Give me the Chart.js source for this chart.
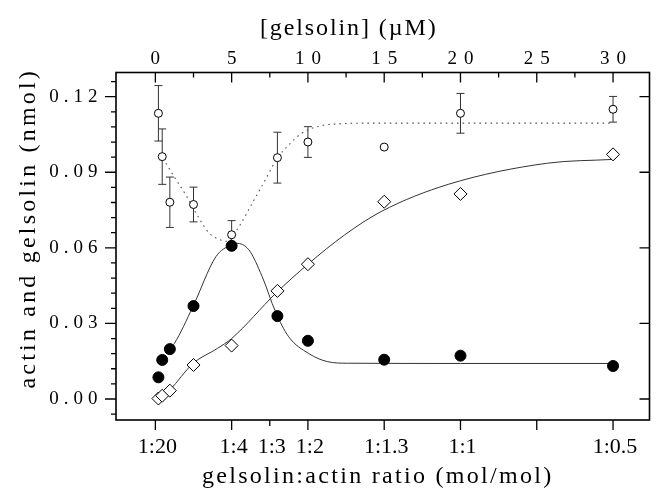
<!DOCTYPE html>
<html><head><meta charset="utf-8">
<script src="https://cdn.jsdelivr.net/npm/chart.js@4.4.0/dist/chart.umd.min.js"></script>
<style>html,body{margin:0;padding:0;background:#fff}#wrap{width:657px;height:494px}</style>
</head><body><div id="wrap"><canvas id="c" width="657" height="494"></canvas></div>
<script>
// ---- data ----
const gelsolinUM    = [0.2, 0.45, 0.95, 2.5, 5, 8, 10, 15, 20, 30];
const openCircles   = [0.1134, 0.0962, 0.0781, 0.0772, 0.0652, 0.0958, 0.1020, 0.1000, 0.1134, 0.1150];
const openErr       = [0.0110, 0.0110, 0.0100, 0.0069, 0.0056, 0.0101, 0.0061, 0, 0.0079, 0.0051];
const filledCircles = [0.0086, 0.0155, 0.0198, 0.0369, 0.0608, 0.0329, 0.0231, 0.0156, 0.0172, 0.0131];
const diamonds      = [0.0002, 0.0013, 0.0033, 0.0135, 0.0212, 0.0429, 0.0535, 0.0783, 0.0814, 0.0971];

// fitted curves
const fitOpenX   = [0.5, 0.8, 1.37, 2.0, 2.67, 3.53, 4.29, 4.7, 5.48, 6.35, 7.2, 7.98, 8.74, 9.6, 10.8, 12, 14, 20, 30];
const fitOpenY   = [0.0955, 0.0925, 0.0869, 0.0810, 0.0737, 0.0658, 0.0631, 0.0626, 0.0684, 0.0777, 0.0869, 0.0955, 0.1008, 0.1055, 0.1084, 0.1092, 0.1095, 0.1095, 0.1095];
const fitFilledX = [0.95, 1.25, 2.45, 3.97, 4.93, 5.3, 6.13, 7.0, 7.87, 8.74, 10.04, 11.3, 12.6, 20, 30];
const fitFilledY = [0.0200, 0.0221, 0.0365, 0.0565, 0.0611, 0.0618, 0.0592, 0.0486, 0.0347, 0.0247, 0.0181, 0.0148, 0.0142, 0.0141, 0.0141];
const fitDiamX   = [0.15, 0.5, 0.95, 2.45, 4.07, 5, 7.9, 10, 12.4, 14.8, 19.2, 25.7, 30];
const fitDiamY   = [-0.0005, 0.0013, 0.0036, 0.0140, 0.0201, 0.0240, 0.0420, 0.0535, 0.0651, 0.0744, 0.0852, 0.0936, 0.0951];

// axes / ticks
const topTickValues     = [0, 5, 10, 15, 20, 25, 30];
const topTickLabels     = ['0', '5', '10', '15', '20', '25', '30'];
const topMinorStep      = 2.5;
const bottomTickValues  = [0, 5, 7.5, 10, 15, 20, 25, 30];
const bottomTickLabels  = ['1:20', '1:4', '1:3', '1:2', '1:1.3', '1:1', '', '1:0.5'];
const yTickValues       = [0, 0.03, 0.06, 0.09, 0.12];
const yTickLabels       = ['0.00', '0.03', '0.06', '0.09', '0.12'];
const yMinorStep        = 0.006;
const X_MIN = -2.58, X_MAX = 32.39, Y_MIN = -0.00834, Y_MAX = 0.1296;

const titleTop    = '[gelsolin] (µM)';
const titleBottom = 'gelsolin:actin ratio (mol/mol)';
const titleLeft   = 'actin and gelsolin (nmol)';

const FONT = "'Liberation Serif', 'Times New Roman', serif";

const textStyle = {
  x:  {labelSpacing: '0px', labelDx: 2, labelDy: 0, titleSpacing: '2.3px', titleDx: -5, titleDy: 0},
  x2: {labelSpacing: '7px', labelDx: 3.5, labelDy: 0, titleSpacing: '1.9px', titleDx: -34, titleDy: 0},
  y:  {labelSpacing: '5px', labelDx: 0, labelDy: 0, titleSpacing: '3.2px', titleDx: 0, titleDy: -18}
};

const spacingPlugin = {
  id: 'spacing',
  afterLayout(chart) {
    for (const id of Object.keys(chart.scales)) {
      const s = chart.scales[id];
      const st = textStyle[id];
      if (!st || s.__wrapped) continue;
      s.__wrapped = true;
      const dl = s.drawLabels, dt = s.drawTitle;
      s.drawLabels = function (area) {
        const c = this.ctx; c.save(); c.letterSpacing = st.labelSpacing;
        c.translate(st.labelDx, st.labelDy); dl.call(this, area); c.restore();
      };
      s.drawTitle = function () {
        const c = this.ctx; c.save(); c.letterSpacing = st.titleSpacing;
        c.translate(st.titleDx, st.titleDy); dt.call(this); c.restore();
      };
    }
  }
};

const errorBars = {
  id: 'errorBars',
  beforeDatasetsDraw(chart) {
    const {ctx, scales: {x, y}} = chart;
    ctx.save();
    ctx.strokeStyle = '#333'; ctx.lineWidth = 1;
    ctx.beginPath();
    gelsolinUM.forEach((g, i) => {
      if (!openErr[i]) return;
      const px = x.getPixelForValue(g);
      const t = y.getPixelForValue(openCircles[i] + openErr[i]);
      const b = y.getPixelForValue(openCircles[i] - openErr[i]);
      ctx.moveTo(px, t); ctx.lineTo(px, b);
      ctx.moveTo(px - 4, t); ctx.lineTo(px + 4, t);
      ctx.moveTo(px - 4, b); ctx.lineTo(px + 4, b);
    });
    ctx.stroke();
    ctx.restore();
  }
};

const framePlugin = {
  id: 'frame',
  afterDraw(chart) {
    const {ctx, chartArea: a, scales} = chart;
    ctx.save();
    ctx.strokeStyle = '#000';
    ctx.lineWidth = 1.6;
    ctx.strokeRect(a.left, a.top, a.right - a.left, a.bottom - a.top);
    ctx.lineWidth = 1.3;
    ctx.beginPath();
    // top axis: major + minor, inward
    for (let i = 0; i * topMinorStep <= 30 + 1e-9; i++) {
      const v = i * topMinorStep;
      const px = scales.x2.getPixelForValue(v);
      const len = (i % 2 === 0) ? 10 : 5;
      ctx.moveTo(px, a.top); ctx.lineTo(px, a.top + len);
    }
    // bottom axis, outward
    bottomTickValues.forEach((v, i) => {
      const px = scales.x.getPixelForValue(v);
      const len = bottomTickLabels[i] === '1:3' ? 6 : 10;
      ctx.moveTo(px, a.bottom); ctx.lineTo(px, a.bottom + len);
    });
    // left axis, outward, major + minor
    for (let i = -1; i <= 21; i++) {
      const v = i * yMinorStep;
      const py = scales.y.getPixelForValue(v);
      if (py < a.top || py > a.bottom) continue;
      const len = (i % 5 === 0) ? 11 : 5;
      ctx.moveTo(a.left, py); ctx.lineTo(a.left - len, py);
    }
    // right axis, inward majors
    yTickValues.forEach(v => {
      const py = scales.y.getPixelForValue(v);
      ctx.moveTo(a.right, py); ctx.lineTo(a.right - 10, py);
    });
    ctx.stroke();
    ctx.restore();
  }
};

const pts = (xs, ys) => xs.map((x, i) => ({x, y: ys[i]}));

new Chart(document.getElementById('c'), {
  type: 'scatter',
  data: {
    datasets: [
      {label: 'filled', data: pts(gelsolinUM, filledCircles), pointRadius: 5.5,
       pointBackgroundColor: '#000', pointBorderColor: '#000', pointBorderWidth: 1, showLine: false},
      {label: 'open', data: pts(gelsolinUM, openCircles), pointRadius: 4,
       pointBackgroundColor: '#fff', pointBorderColor: '#000', pointBorderWidth: 1, showLine: false},
      {label: 'diamond', data: pts(gelsolinUM, diamonds), pointStyle: 'rectRot', pointRadius: 6.5,
       pointBackgroundColor: '#fff', pointBorderColor: '#000', pointBorderWidth: 1, showLine: false},
      {label: 'fitOpen', data: pts(fitOpenX, fitOpenY), showLine: true, pointRadius: 0,
       borderColor: '#555', borderWidth: 1.1, borderDash: [1.6, 4], cubicInterpolationMode: 'monotone'},
      {label: 'fitFilled', data: pts(fitFilledX, fitFilledY), showLine: true, pointRadius: 0,
       borderColor: '#333', borderWidth: 1, cubicInterpolationMode: 'monotone'},
      {label: 'fitDiamond', data: pts(fitDiamX, fitDiamY), showLine: true, pointRadius: 0,
       borderColor: '#333', borderWidth: 1, cubicInterpolationMode: 'monotone'}
    ]
  },
  options: {
    responsive: false, animation: false, devicePixelRatio: 1,
    layout: {padding: {left: 0, right: 3.5, top: 0, bottom: 0}},
    plugins: {legend: {display: false}, tooltip: {enabled: false}},
    scales: {
      x: {
        type: 'linear', position: 'bottom', min: X_MIN, max: X_MAX,
        grid: {display: false, drawTicks: false}, border: {display: false},
        afterBuildTicks: s => { s.ticks = bottomTickValues.map(v => ({value: v})); },
        afterFit: s => { s.height = 74; },
        ticks: {autoSkip: false, maxRotation: 0, minRotation: 0, padding: 14.3, color: '#000',
                font: {family: FONT, size: 22}, callback: (v, i) => bottomTickLabels[i]},
        title: {display: true, text: titleBottom, color: '#000', font: {family: FONT, size: 24, lineHeight: 1.2},
                padding: {top: 0, bottom: 2.6}}
      },
      x2: {
        type: 'linear', position: 'top', min: X_MIN, max: X_MAX,
        grid: {display: false, drawTicks: false}, border: {display: false},
        afterBuildTicks: s => { s.ticks = topTickValues.map(v => ({value: v})); },
        afterFit: s => { s.height = 72.5; },
        ticks: {autoSkip: false, maxRotation: 0, minRotation: 0, padding: 2.1, color: '#000',
                font: {family: FONT, size: 19}, callback: (v, i) => topTickLabels[i]},
        title: {display: true, text: titleTop, color: '#000', font: {family: FONT, size: 24, lineHeight: 1.2},
                padding: {top: 14.1, bottom: 0}}
      },
      y: {
        type: 'linear', position: 'left', min: Y_MIN, max: Y_MAX,
        grid: {display: false, drawTicks: false}, border: {display: false},
        afterBuildTicks: s => { s.ticks = yTickValues.map(v => ({value: v})); },
        afterFit: s => { s.width = 116; },
        ticks: {autoSkip: false, padding: 13.6, color: '#000',
                font: {family: FONT, size: 19}, callback: (v, i) => yTickLabels[i]},
        title: {display: true, text: titleLeft, color: '#000', font: {family: FONT, size: 24, lineHeight: 1.2},
                padding: {top: 14.6, bottom: 0}}
      }
    }
  },
  plugins: [spacingPlugin, errorBars, framePlugin]
});
</script>
</body></html>
